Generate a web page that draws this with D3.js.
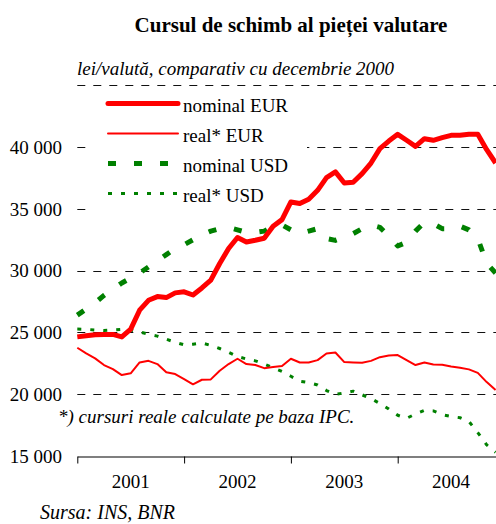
<!DOCTYPE html>
<html><head><meta charset="utf-8">
<script src="https://cdn.jsdelivr.net/npm/d3@7"></script>
<style>
html,body{margin:0;padding:0;background:#fff;}
svg{display:block;}
text{fill:#000;}
</style></head>
<body>
<script>
// ---- data (monthly, Jan 2001 - Dec 2004) ----
const years = ["2001","2002","2003","2004"];
const nominalEUR = [24640,24730,24810,24840,24840,24640,25270,26800,27600,27900,27820,28200,
  28290,28030,28600,29230,30580,31790,32680,32320,32460,32620,33600,34130,
  35560,35430,35780,36500,37530,37990,37090,37150,37850,38710,39870,40490,
  41030,40550,40060,40680,40550,40760,40950,40950,41030,41030,39790,38710];
const realEUR = [23760,23300,22900,22360,22030,21550,21690,22570,22700,22440,21770,21630,
  21230,20800,21170,21200,21900,22440,22870,22440,22360,22110,22200,22280,
  22870,22570,22570,22760,23300,23380,22600,22570,22550,22700,23000,23140,
  23170,22760,22360,22570,22410,22390,22250,22140,22010,21730,20980,20340];
const nominalUSD = [26400,26900,27400,28000,28500,29000,29400,29800,30300,30800,31300,31800,
  32100,32500,32900,33200,33400,33500,33300,33100,33100,33200,33600,33700,
  33300,33000,33200,33400,32600,32450,32700,33000,33400,33700,33500,32800,
  32000,32300,33200,33900,33800,33400,33400,33600,33300,32600,30600,29800];
const realUSD = [25270,25250,25200,25150,25200,25250,25200,25050,24850,24700,24450,24200,
  24000,24050,24150,23950,23700,23400,23050,22850,22700,22450,22150,21850,
  21450,21050,20950,20750,20300,20000,20100,20250,19950,19650,19250,18800,
  18300,18050,18400,18700,18650,18350,18200,18100,17800,16900,15900,15300];
const yTickValues = [15000,20000,25000,30000,35000,40000];
const yTickLabels = ["15 000","20 000","25 000","30 000","35 000","40 000"];
const gridValues = [20000,25000,30000,35000,40000,45000];
const seriesNames = ["nominal EUR","real* EUR","nominal USD","real* USD"];

const FONT = "'Liberation Serif', Tinos, 'Times New Roman', 'DejaVu Serif', serif";
const W = 496, H = 524;
const svg = d3.select("body").append("svg").attr("width", W).attr("height", H)
  .style("font-family", FONT);

const x = d3.scaleLinear().domain([0, 48]).range([77.3, 504.5]);
const y = d3.scaleLinear().domain([15000, 45000]).range([456, 85.3]);

// title
svg.append("text").attr("x", 291).attr("y", 31.5).attr("text-anchor", "middle")
  .attr("font-family", FONT).attr("font-size", 21).attr("font-weight", "bold")
  .text("Cursul de schimb al pieței valutare");
svg.append("text").attr("x", 77).attr("y", 75)
  .attr("font-family", FONT).attr("font-size", 19).attr("font-style", "italic")
  .text("lei/valută, comparativ cu decembrie 2000");

// gridlines
svg.append("g").selectAll("line").data(gridValues).join("line")
  .attr("x1", x(0)).attr("x2", W)
  .attr("y1", d => Math.round(y(d)) + 0.5).attr("y2", d => Math.round(y(d)) + 0.5)
  .attr("stroke", "#111").attr("stroke-width", 1).attr("stroke-dasharray", "8,8");

// legend background hides gridlines
svg.append("rect").attr("x", 88).attr("y", 90).attr("width", 219).attr("height", 125).attr("fill", "#fff");

// y labels
svg.append("g").selectAll("text").data(yTickValues).join("text")
  .attr("x", 62).attr("y", d => y(d)).attr("dy", "0.35em").attr("text-anchor", "end")
  .attr("font-family", FONT).attr("font-size", 19).text((d, i) => yTickLabels[i]);

// x axis
const xAxis = svg.append("g").attr("transform", `translate(0,${Math.round(y(15000))+0.5})`)
  .call(d3.axisBottom(x).tickValues([0, 12, 24, 36, 48]).tickFormat("").tickSize(7).tickSizeOuter(0));
xAxis.select(".domain").attr("stroke", "#000").attr("stroke-width", 1.2);
xAxis.selectAll(".tick line").attr("stroke", "#000");
svg.append("g").selectAll("text").data(years).join("text")
  .attr("x", (d, i) => x(i * 12 + 6)).attr("y", 488).attr("text-anchor", "middle")
  .attr("font-family", FONT).attr("font-size", 19).text(d => d);

// lines
const line = d3.line().x((d, i) => x(i)).y(d => y(d));
const styles = [
  {data: nominalEUR, color: "#ff0000", w: 5, dash: null},
  {data: realEUR, color: "#ff0000", w: 2, dash: null},
  {data: nominalUSD, color: "#008000", w: 5, dash: "8,18"},
  {data: realUSD, color: "#008000", w: 3, dash: "4,9"}
];
const drawOrder = [3, 2, 1, 0];
drawOrder.forEach(k => {
  const s = styles[k];
  svg.append("path").datum(s.data).attr("d", line)
    .attr("fill", "none").attr("stroke", s.color).attr("stroke-width", s.w)
    .attr("stroke-linejoin", "round")
    .attr("stroke-dasharray", s.dash);
});

// legend
const lg = svg.append("g");
seriesNames.forEach((name, i) => {
  const by = 111.5 + i * 30;
  const s = styles[i];
  lg.append("line").attr("x1", 108).attr("x2", 178).attr("y1", by - 8).attr("y2", by - 8)
    .attr("stroke", s.color).attr("stroke-width", s.w)
    .attr("stroke-linecap", i === 0 || i === 1 ? "round" : "butt")
    .attr("stroke-dasharray", s.dash);
  lg.append("text").attr("x", 183).attr("y", by)
    .attr("font-family", FONT).attr("font-size", 19).text(name);
});

// footnotes
svg.append("text").attr("x", 58).attr("y", 423)
  .attr("font-family", FONT).attr("font-size", 19).attr("font-style", "italic")
  .text("*) cursuri reale calculate pe baza IPC.");
svg.append("text").attr("x", 40).attr("y", 519)
  .attr("font-family", FONT).attr("font-size", 20).attr("font-style", "italic")
  .text("Sursa: INS, BNR");
</script>
</body></html>
